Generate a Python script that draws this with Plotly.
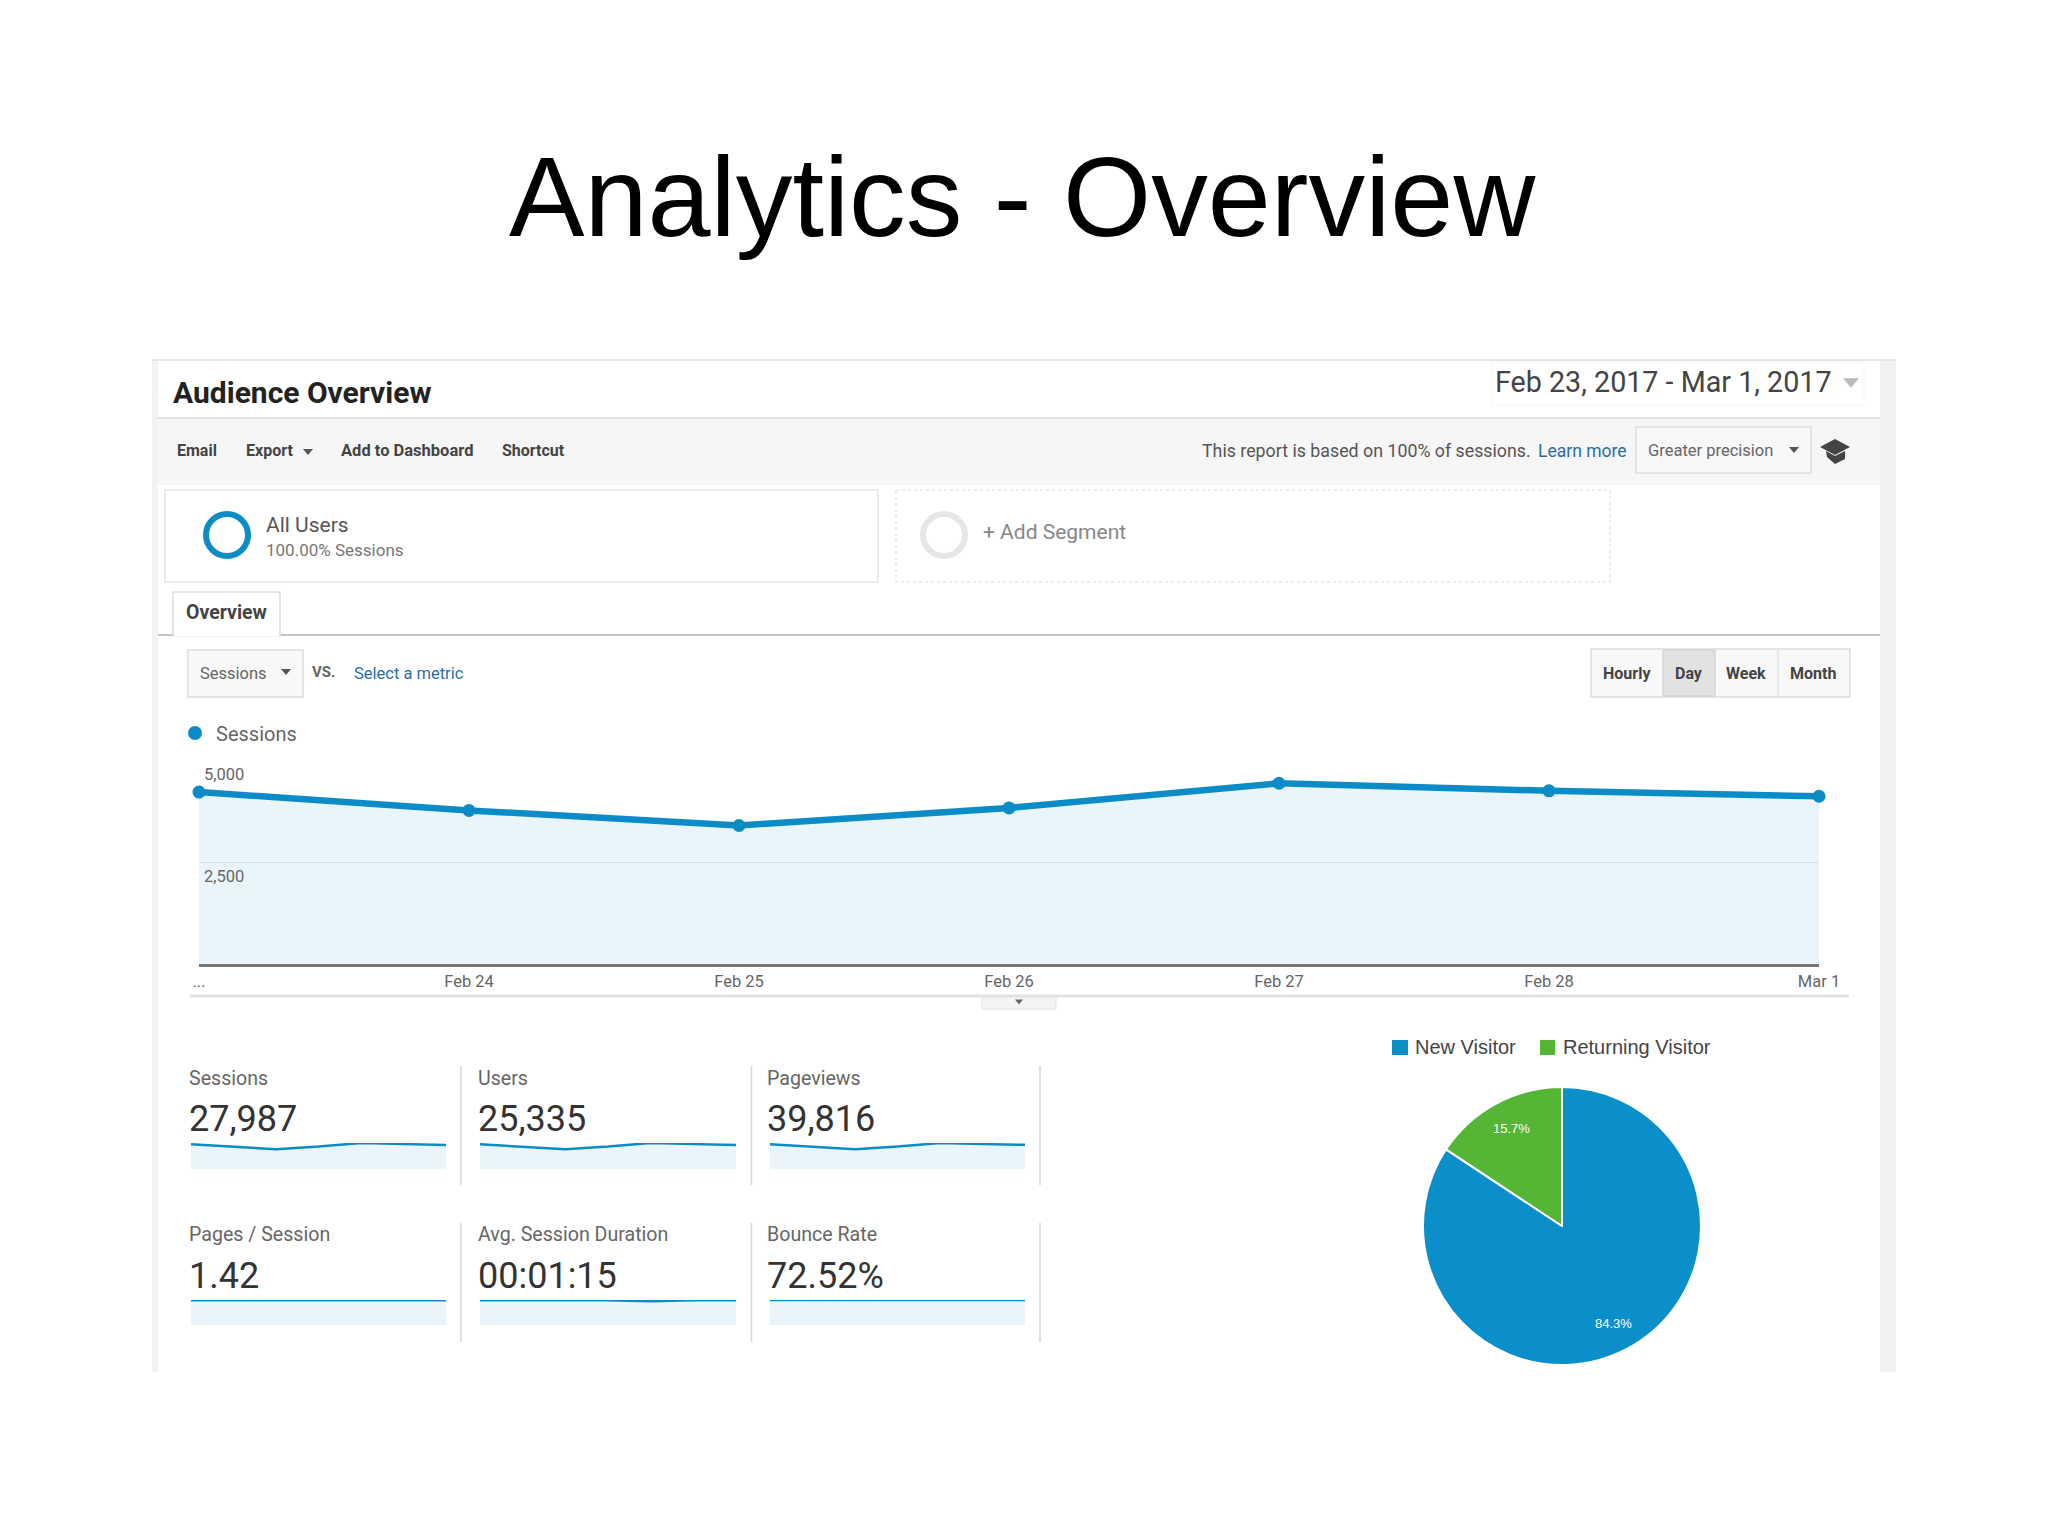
import plotly.graph_objects as go

#Page body has an 8px margin, so the figure is 16px smaller than the window
W = 2032
H = 1519
BODY_MARGIN = 8

#Main chart data
days = ["Feb 23", "Feb 24", "Feb 25", "Feb 26", "Feb 27", "Feb 28", "Mar 1"]
day_labels = ["...", "Feb 24", "Feb 25", "Feb 26", "Feb 27", "Feb 28", "Mar 1"]
sessions = [4215, 3765, 3395, 3825, 4430, 4245, 4112]
y_ticks = [5000, 2500]
y_tick_labels = ["5,000", "2,500"]

#Scorecards
kpi_names = ["Sessions", "Users", "Pageviews", "Pages / Session", "Avg. Session Duration", "Bounce Rate"]
kpi_values = ["27,987", "25,335", "39,816", "1.42", "00:01:15", "72.52%"]
users = [3815, 3410, 3075, 3465, 4010, 3840, 3720]
pageviews = [5995, 5355, 4830, 5440, 6300, 6040, 5856]
pages_per_session = [1.42, 1.42, 1.43, 1.42, 1.41, 1.42, 1.42]
avg_duration = [75, 75, 76, 75, 72, 75, 75]
bounce_rate = [72.6, 72.3, 72.1, 72.5, 72.9, 72.6, 72.7]
kpi_series = [sessions, users, pageviews, pages_per_session, avg_duration, bounce_rate]

#Pie
visitor_types = ["New Visitor", "Returning Visitor"]
visitor_share = [84.3, 15.7]
visitor_colors = ["#0a8fcb", "#55b535"]

BLUE = "#0b8cc6"
FILL = "rgba(5,141,199,0.085)"
UI_FONT = "Roboto"
ARIAL = "Liberation Sans"

shapes = []
annotations = []

#Window pixel position to paper position
def px(x):
    return (x - BODY_MARGIN) / W

def py(y):
    return 1 - (y - BODY_MARGIN) / H

def add_rect(x0, y0, x1, y1, fill=None, line=None, width=1, dash=None):
    shapes.append(dict(
        type="rect", xref="paper", yref="paper", layer="below",
        x0=px(x0), y0=py(y0), x1=px(x1), y1=py(y1),
        fillcolor=fill or "rgba(0,0,0,0)",
        line=dict(color=line or "rgba(0,0,0,0)", width=width if line else 0, dash=dash),
    ))

def add_line(x0, y0, x1, y1, color, width=1):
    shapes.append(dict(
        type="line", xref="paper", yref="paper", layer="below",
        x0=px(x0), y0=py(y0), x1=px(x1), y1=py(y1),
        line=dict(color=color, width=width),
    ))

def add_ring(cx, cy, r, color, width):
    shapes.append(dict(
        type="circle", xref="paper", yref="paper", layer="below",
        x0=px(cx - r), y0=py(cy - r), x1=px(cx + r), y1=py(cy + r),
        line=dict(color=color, width=width),
    ))

def add_poly(points, color):
    path = "M " + " L ".join("{} {}".format(px(x), py(y)) for x, y in points) + " Z"
    shapes.append(dict(type="path", xref="paper", yref="paper", layer="below", path=path,
                       fillcolor=color, line=dict(width=0)))

def add_arrow(cx, cy, size, color="#666666"):
    add_poly([(cx - size, cy - size * 0.6), (cx + size, cy - size * 0.6), (cx, cy + size * 0.6)], color)

def add_text(x, y, text, size, color="#555555", font=UI_FONT, anchor="left", bold=False):
    if bold:
        text = "<b>" + text + "</b>"
    annotations.append(dict(
        xref="paper", yref="paper", x=px(x), y=py(y), text=text, showarrow=False,
        xanchor=anchor, yanchor="middle", align=anchor,
        font=dict(family=font, size=size, color=color),
    ))

#Slide title
add_text(1022, 196, "Analytics - Overview", 113.3, "#000000", ARIAL, "center")

#Panel borders
add_rect(152, 360, 158, 1372, "#f2f2f2")
add_rect(1880, 360, 1896, 1372, "#f2f2f2")
add_line(152, 360, 1896, 360, "#e6e6e6", 2)

#Header
add_text(171, 392, "Audience Overview", 30, "#222222", bold=True)
add_rect(1492, 362, 1864, 405, "#ffffff", "#f5f5f5")
add_text(1493, 382, "Feb 23, 2017 - Mar 1, 2017", 28.7, "#444444")
add_arrow(1851, 383, 8, "#bbbbbb")

#Toolbar
add_rect(158, 418, 1880, 485, "#f6f6f6")
add_line(158, 418, 1880, 418, "#e2e2e2", 2)
add_text(175, 450, "Email", 16, "#444444", bold=True)
add_text(244, 450, "Export", 16, "#444444", bold=True)
add_arrow(308, 452, 5, "#555555")
add_text(339, 450, "Add to Dashboard", 16.5, "#444444", bold=True)
add_text(500, 450, "Shortcut", 16, "#444444", bold=True)
add_text(1200, 451, "This report is based on 100% of sessions.", 17.8, "#555555")
add_text(1536, 451, "Learn more", 17.5, "#2a6f9f")
add_rect(1636, 427, 1811, 473, "#f8f8f8", "#dddddd", 1.5)
add_text(1646, 450, "Greater precision", 16.5, "#666666")
add_arrow(1794, 450, 5, "#555555")
add_poly([(1820, 447), (1835, 439), (1850, 447), (1835, 455)], "#444444")
add_poly([(1826, 451), (1835, 456), (1845, 451), (1845, 459), (1835, 464), (1827, 457)], "#444444")

#Segments
add_rect(165, 490, 878, 582, "#ffffff", "#ececec", 2)
add_ring(227, 535, 21, BLUE, 6)
add_text(264, 525, "All Users", 21, "#555555")
add_text(264, 550, "100.00% Sessions", 17, "#777777")
add_rect(896, 490, 1610, 582, "#ffffff", "#e6e6e6", 1.5, "dot")
add_ring(944, 535, 21, "#e6e6e6", 6)
add_text(981, 532, "+ Add Segment", 21, "#888888")

#Tab row
add_line(158, 635, 1880, 635, "#c4c4c4", 2)
add_rect(173, 592, 280, 636, "#ffffff", "#dddddd", 1.5)
add_line(174, 635, 279, 635, "#ffffff", 3)
add_text(184, 613, "Overview", 19.5, "#444444", bold=True)

#Metric picker
add_rect(188, 650, 303, 697, "#f8f8f8", "#dddddd", 1.5)
add_text(198, 673, "Sessions", 16.5, "#666666")
add_arrow(286, 672, 5, "#555555")
add_text(310, 672, "VS.", 15, "#666666", bold=True)
add_text(352, 673, "Select a metric", 16.5, "#2a6f9f")

#Hourly / Day / Week / Month
add_rect(1591, 649, 1850, 697, "#f8f8f8", "#dddddd", 1.5)
add_rect(1663, 650, 1715, 696, "#e2e2e2", "#cccccc", 1)
add_line(1778, 650, 1778, 696, "#e2e2e2", 1.5)
add_text(1627, 673, "Hourly", 16, "#444444", anchor="center", bold=True)
add_text(1689, 673, "Day", 16, "#444444", anchor="center", bold=True)
add_text(1746, 673, "Week", 16, "#444444", anchor="center", bold=True)
add_text(1813, 673, "Month", 16, "#444444", anchor="center", bold=True)

#Chart legend
shapes.append(dict(type="circle", xref="paper", yref="paper", layer="below",
                   x0=px(188), y0=py(726), x1=px(202), y1=py(740), fillcolor=BLUE, line=dict(width=0)))
add_text(214, 734, "Sessions", 20, "#666666")

#Y tick labels sit under the gridlines
for tick, label in zip(y_ticks, y_tick_labels):
    annotations.append(dict(
        xref="paper", yref="y", x=px(202), y=tick, text=label, showarrow=False,
        xanchor="left", yanchor="top", yshift=-3,
        font=dict(family=UI_FONT, size=16.5, color="#666666"),
    ))

#Drawer under the chart
add_line(190, 996, 1849, 996, "#e2e2e2", 3)
add_rect(982, 997, 1056, 1009, "#f4f4f4", "#e2e2e2", 1)
add_arrow(1019, 1002, 4, "#666666")

#Scorecard texts and dividers
kpi_columns = [(187, 191, 446, 461), (476, 480, 736, 751.5), (765, 770, 1025, 1040)]
kpi_rows = [(1078, 1119, 1143, 1169.5, 1066, 1185), (1234, 1276, 1300, 1325, 1223, 1342)]

layout_axes = {}
fig = go.Figure()

#Main sessions chart
fig.add_scatter(
    x=days, y=sessions, mode="lines+markers", cliponaxis=False, fill="tozeroy", fillcolor=FILL,
    line=dict(color=BLUE, width=6.5), marker=dict(color=BLUE, size=13), showlegend=False,
)

for i, name in enumerate(kpi_names):
    text_x, x0, x1, divider = kpi_columns[i % 3]
    label_y, value_y, y0, y1, div0, div1 = kpi_rows[i // 3]
    add_text(text_x, label_y, name, 19.6, "#666666")
    add_text(text_x, value_y, kpi_values[i], 36, "#333333")
    add_line(divider, div0, divider, div1, "#d6d6d6", 1.5)

    #Sparkline on its own axes
    n = i + 2
    fig.add_scatter(
        x=days, y=kpi_series[i], xaxis="x{}".format(n), yaxis="y{}".format(n),
        mode="lines", cliponaxis=False, fill="tozeroy", fillcolor=FILL,
        line=dict(color=BLUE, width=2.5), showlegend=False,
    )
    layout_axes["xaxis{}".format(n)] = dict(
        domain=[px(x0), px(x1)], anchor="y{}".format(n), type="category",
        range=[0, 6], visible=False, automargin=False,
    )
    layout_axes["yaxis{}".format(n)] = dict(
        domain=[py(y1), py(y0)], anchor="x{}".format(n),
        range=[0, max(kpi_series[i])], visible=False, automargin=False,
    )

#Pie of visitor types
fig.add_pie(
    labels=visitor_types, values=visitor_share, sort=False, direction="clockwise", rotation=0,
    marker=dict(colors=visitor_colors, line=dict(color="#ffffff", width=2)),
    textinfo="none", showlegend=False,
    domain=dict(x=[px(1423), px(1701)], y=[py(1365), py(1087)]),
)
add_text(1613, 1323, "84.3%", 13, "#ffffff", ARIAL, "center")
add_text(1511, 1128, "15.7%", 13, "#ffffff", ARIAL, "center")

#Pie legend
add_rect(1392, 1040, 1408, 1055, visitor_colors[0])
add_text(1413, 1047, visitor_types[0], 20, "#444444", ARIAL)
add_rect(1540, 1040, 1555, 1055, visitor_colors[1])
add_text(1561, 1047, visitor_types[1], 20, "#444444", ARIAL)

fig.update_layout(
    width=W, height=H, autosize=False,
    margin=dict(l=0, r=0, t=0, b=0),
    paper_bgcolor="#ffffff", plot_bgcolor="rgba(0,0,0,0)",
    shapes=shapes, annotations=annotations,
    xaxis=dict(
        domain=[px(199), px(1819)], type="category", range=[0, 6], anchor="y", automargin=False,
        tickmode="array", tickvals=days, ticktext=day_labels, ticks="",
        tickfont=dict(family=UI_FONT, size=16.5, color="#666666"),
        showgrid=False, zeroline=False, showline=True, linecolor="#777777", linewidth=3,
    ),
    yaxis=dict(
        domain=[py(964), py(760)], range=[0, 5000], anchor="x", automargin=False,
        tickmode="array", tickvals=y_ticks, showticklabels=False, ticks="",
        showgrid=True, gridcolor="#e8e8e8", gridwidth=1, zeroline=False,
    ),
    **layout_axes,
)

fig.write_html("out.html")
